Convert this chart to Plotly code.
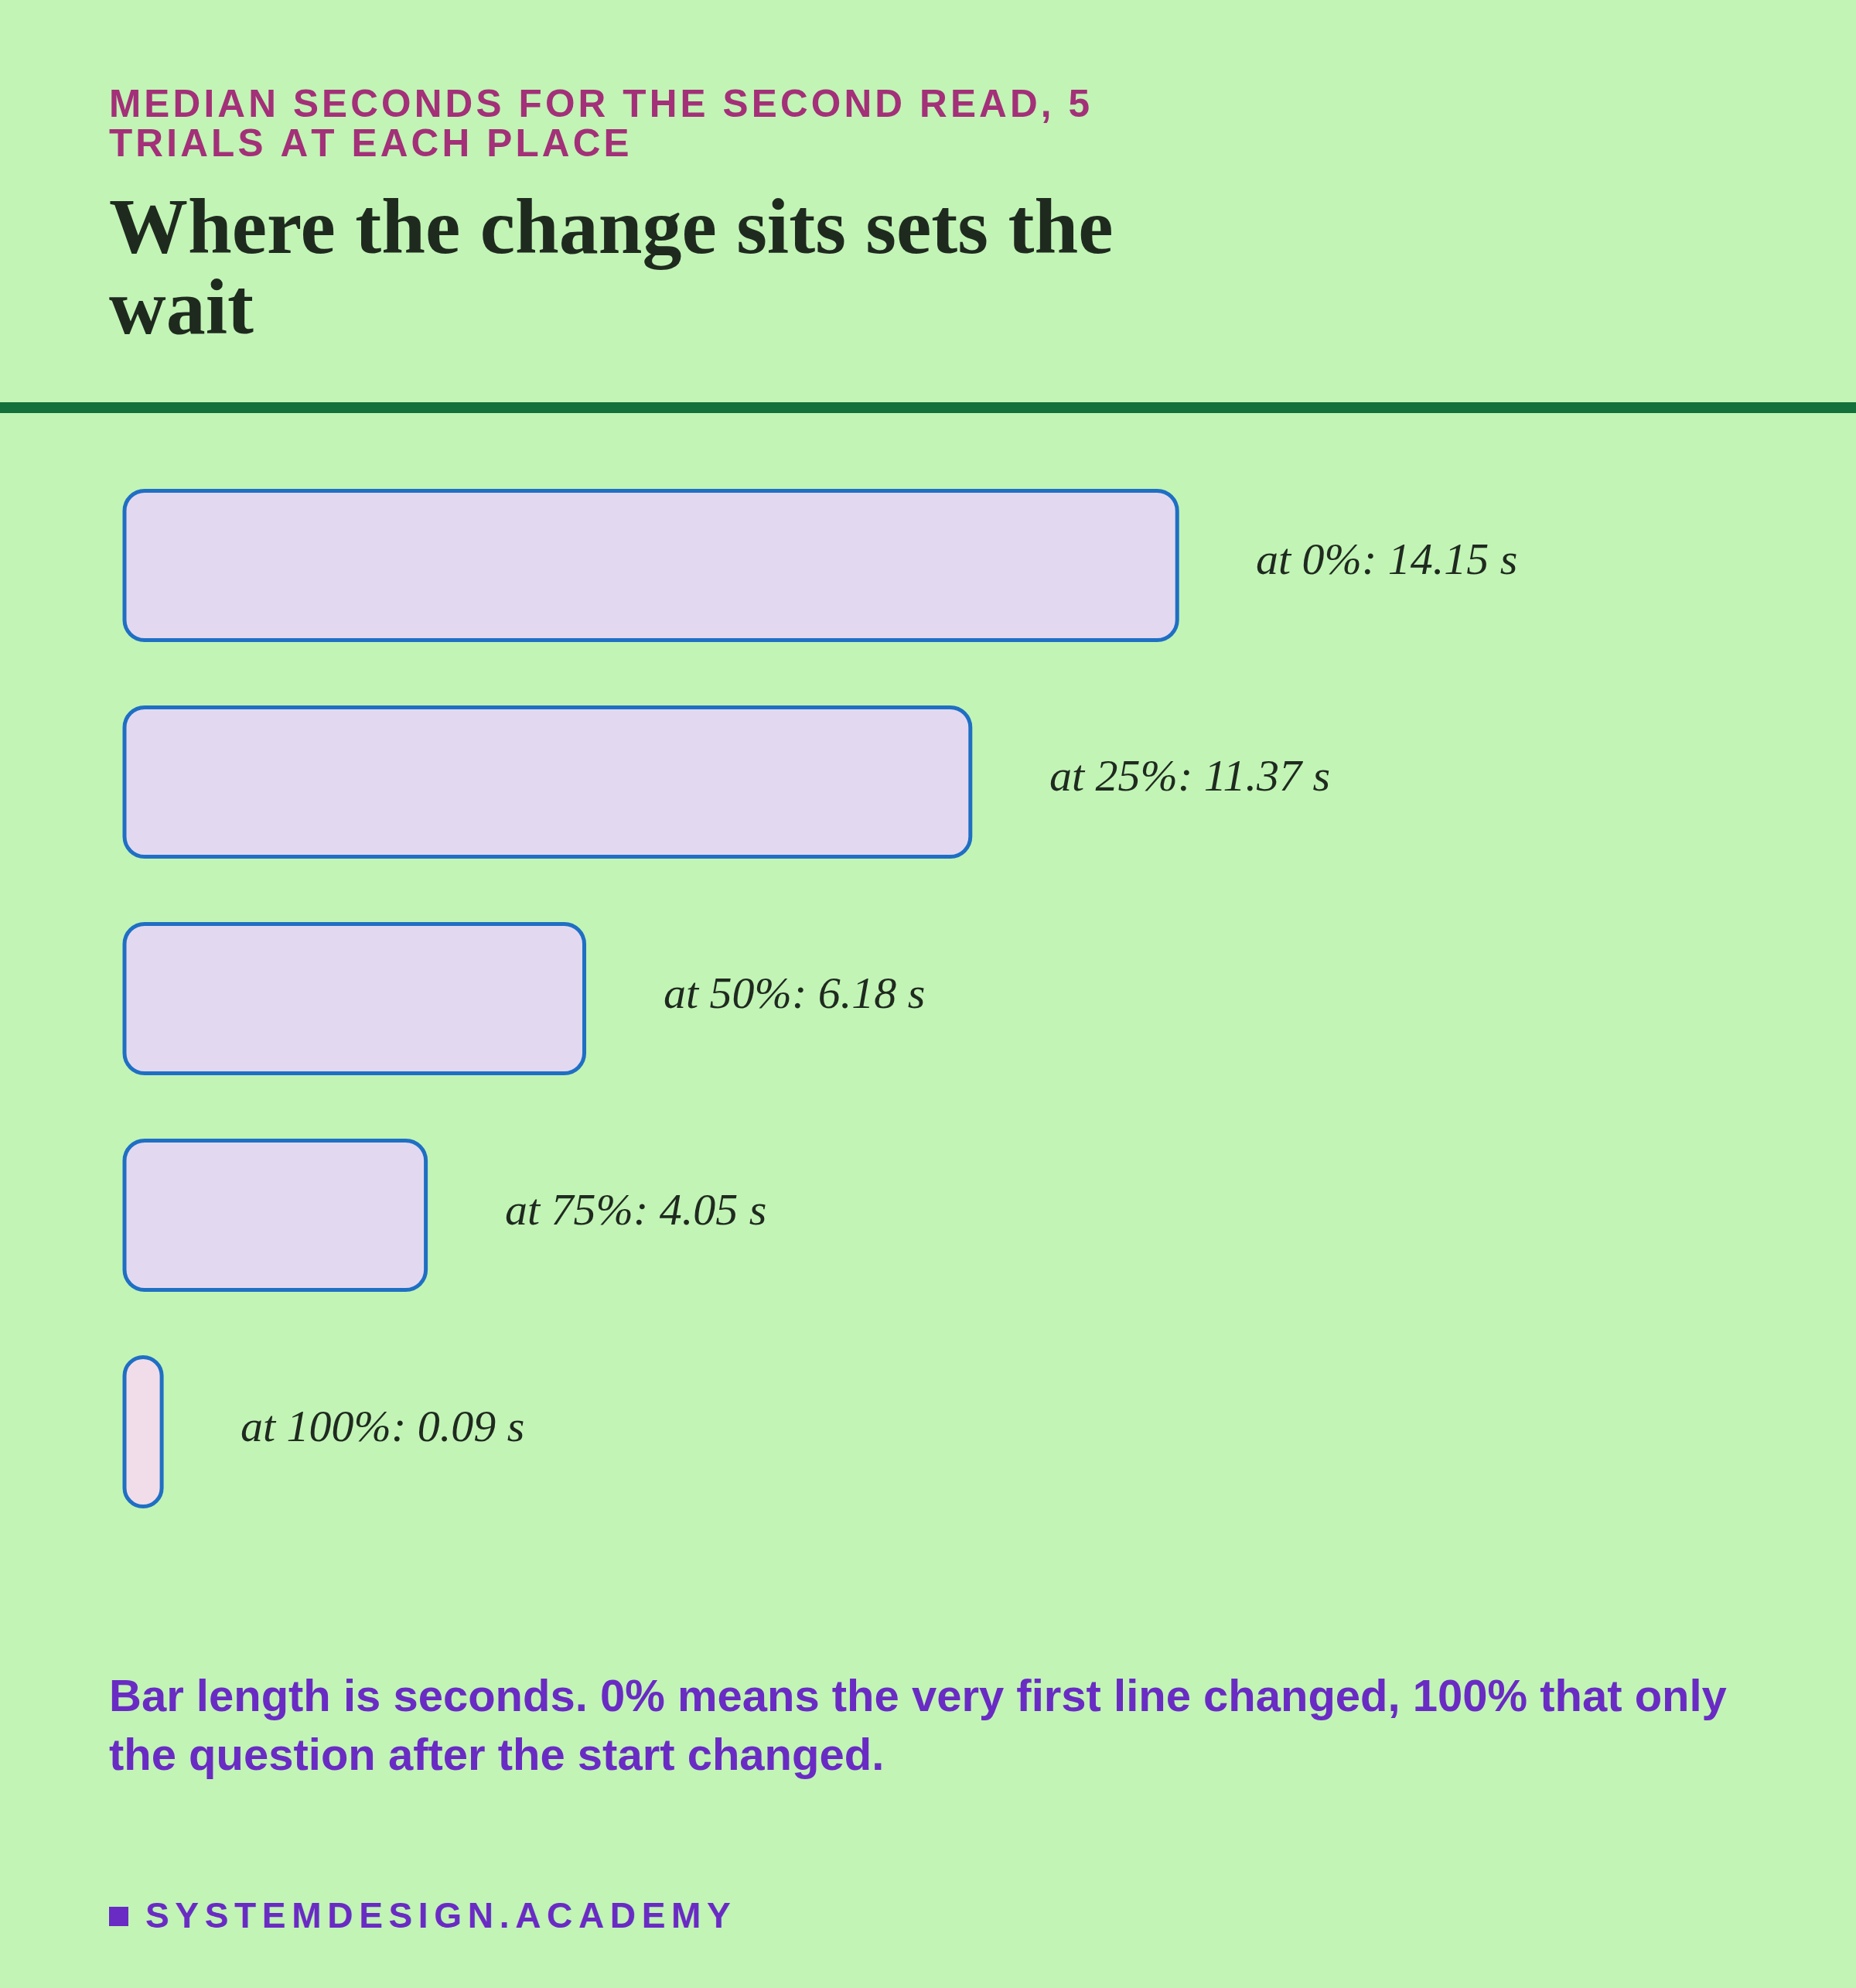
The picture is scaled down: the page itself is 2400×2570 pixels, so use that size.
import plotly.graph_objects as go

# ---------------- data ----------------
positions = ["0%", "25%", "50%", "75%", "100%"]
seconds = [14.15, 11.37, 6.18, 4.05, 0.09]

subtitle_lines = ["MEDIAN SECONDS FOR THE SECOND READ, 5", "TRIALS AT EACH PLACE"]
title_lines = ["Where the change sits sets the", "wait"]
note_lines = [
    "Bar length is seconds. 0% means the very first line changed, 100% that only",
    "the question after the start changed.",
]
footer_text = "SYSTEMDESIGN.ACADEMY"

# ---------------- style ----------------
W, H = 2400, 2570
BG = "#c2f4b6"
TITLE_C = "#1f2a1f"
SUB_C = "#a33078"
NOTE_C = "#692bc4"
RULE_C = "#13703a"
BAR_LINE = "#1f6fc4"
BAR_FILL = "#e2d9f1"
BAR_FILL_SMALL = "#f0dde9"
MIN_BAR_S = 0.5  # minimum drawn length so tiny values stay visible
PX_PER_S = 96.2
BAR_W = 0.69
HAIR = "\u200a"


def spaced(t, n=1):
    return (HAIR * n).join(t)


def py(px):
    return 1 - px / H


def px_x(px):
    return px / W


disp = [max(v, MIN_BAR_S) for v in seconds]
fills = [BAR_FILL_SMALL if v < MIN_BAR_S else BAR_FILL for v in seconds]
labels = [f"at {p}: {v:.2f} s" for p, v in zip(positions, seconds)]

fig = go.Figure()
fig.add_trace(
    go.Bar(
        x=disp,
        base=[1e-6] * len(disp),
        y=positions,
        orientation="h",
        width=BAR_W,
        marker=dict(color=fills, line=dict(color=BAR_LINE, width=5), cornerradius=26),
        customdata=seconds,
        hovertemplate="at %{y}: %{customdata:.2f} s<extra></extra>",
        showlegend=False,
        cliponaxis=False,
    )
)

annotations = []
for lab, d, p in zip(labels, disp, positions):
    annotations.append(
        dict(
            x=d, y=p, xref="x", yref="y", text=lab, showarrow=False,
            xanchor="left", yanchor="middle", xshift=100, yshift=8,
            font=dict(family="Liberation Serif", size=58, color=TITLE_C, style="italic"),
        )
    )


def add_line(text, x, baseline, size, family, color, weight="normal", descent=0.212):
    bottom = baseline + descent * size + 2
    annotations.append(
        dict(
            x=px_x(x - 2), y=py(bottom), xref="paper", yref="paper", text=text,
            showarrow=False, xanchor="left", yanchor="bottom",
            font=dict(family=family, size=size, color=color, weight=weight),
        )
    )


for i, t in enumerate(subtitle_lines):
    add_line(spaced(t), 141, 151 + i * 51, 49.5, "Liberation Sans", SUB_C, "bold")
for i, t in enumerate(title_lines):
    add_line(t, 141, 327 + i * 104, 102, "Liberation Serif", TITLE_C, "bold", 0.216)
for i, t in enumerate(note_lines):
    add_line(t, 141, 2212 + i * 76, 58, "Liberation Sans", NOTE_C, "bold")
add_line(spaced(footer_text, 2), 188, 2492, 46, "Liberation Sans", NOTE_C, "bold")

shapes = [
    dict(type="rect", xref="paper", yref="paper", x0=0, x1=1, y0=py(534), y1=py(520),
         fillcolor=RULE_C, line=dict(width=0), layer="above"),
    dict(type="rect", xref="paper", yref="paper", x0=px_x(141), x1=px_x(166),
         y0=py(2490), y1=py(2465), fillcolor=NOTE_C, line=dict(width=0)),
]

x0_px = 161
fig.update_layout(
    width=W, height=H,
    margin=dict(l=0, r=0, t=0, b=0),
    paper_bgcolor=BG, plot_bgcolor=BG,
    barmode="overlay",
    xaxis=dict(domain=[0, 1], range=[-x0_px / PX_PER_S, (W - x0_px) / PX_PER_S],
               visible=False, fixedrange=True),
    yaxis=dict(domain=[py(1991), py(591)], type="category", autorange="reversed",
               visible=False, fixedrange=True),
    annotations=annotations,
    shapes=shapes,
    showlegend=False,
)

fig.write_html(
    "out.html",
    config={"displayModeBar": False},
    post_script="document.body.style.margin='0';document.body.style.overflow='hidden';",
)
